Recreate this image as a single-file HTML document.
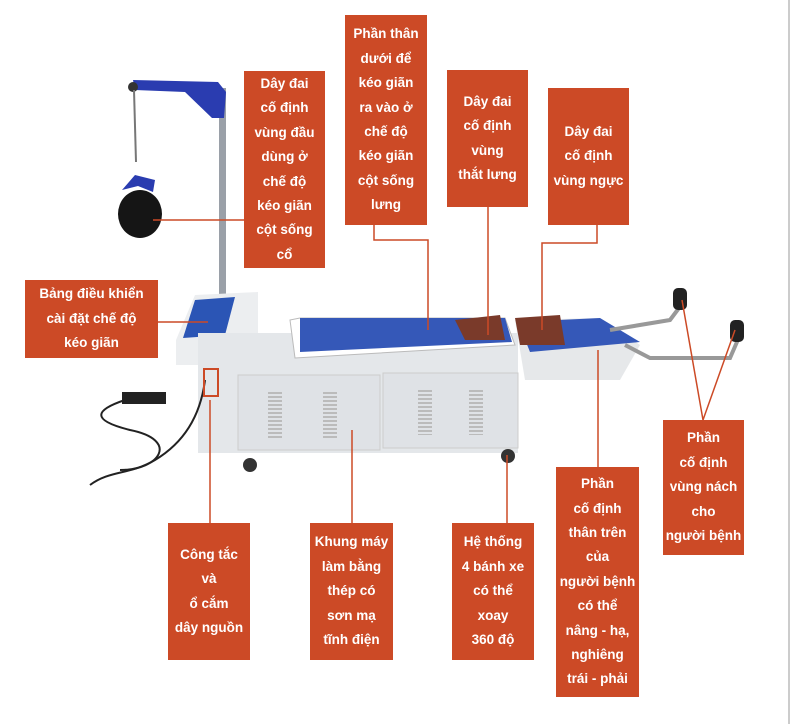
<!DOCTYPE html>
<html><head><meta charset="utf-8"><style>
body{margin:0;width:792px;height:724px;background:#fff;position:relative;overflow:hidden;font-family:"Liberation Sans","DejaVu Sans",sans-serif}
.b{position:absolute;background:#cc4a26;color:#fff;font-weight:bold;font-size:13.5px;line-height:24.4px;text-align:center;display:flex;align-items:center;justify-content:center}
svg{position:absolute;left:0;top:0}
</style></head><body>
<svg width="792" height="724">
<line x1="789" y1="0" x2="789" y2="724" stroke="#ccc" stroke-width="2"/>
<!-- pole and hanger -->
<rect x="219" y="88" width="7" height="212" fill="#9aa0a8"/>
<polygon points="133,80 218,82 226,92 224,118 212,118 185,92 135,90" fill="#2a3cb0"/>
<circle cx="133" cy="87" r="5" fill="#333"/>
<line x1="134" y1="90" x2="136" y2="162" stroke="#777" stroke-width="2"/>
<polygon points="122,190 135,175 155,180 153,192 138,186" fill="#2a3cb0"/>
<ellipse cx="140" cy="214" rx="22" ry="24" fill="#151515"/>
<!-- control box -->
<polygon points="176,340 195,295 258,292 258,365 176,365" fill="#eceef0"/>
<polygon points="195,300 235,297 225,335 183,338" fill="#2b55b5"/>
<!-- main cabinet -->
<rect x="198" y="333" width="320" height="120" fill="#e4e7ea"/>
<rect x="238" y="375" width="142" height="75" fill="#dfe2e6" stroke="#ccc"/>
<rect x="383" y="373" width="135" height="75" fill="#dfe2e6" stroke="#ccc"/>
<g stroke="#bbb" stroke-width="2">
<line x1="275" y1="392" x2="275" y2="440" stroke-dasharray="2 2" stroke-width="14"/>
<line x1="330" y1="392" x2="330" y2="440" stroke-dasharray="2 2" stroke-width="14"/>
<line x1="425" y1="390" x2="425" y2="435" stroke-dasharray="2 2" stroke-width="14"/>
<line x1="476" y1="390" x2="476" y2="435" stroke-dasharray="2 2" stroke-width="14"/>
</g>
<circle cx="250" cy="465" r="7" fill="#333"/><circle cx="508" cy="456" r="7" fill="#333"/>
<!-- bed -->
<polygon points="290,320 300,318 505,318 515,345 295,358" fill="#fff" stroke="#bbb"/>
<polygon points="300,318 505,318 512,342 300,352" fill="#3558b8"/>
<polygon points="455,320 500,315 505,340 465,340" fill="#7a3a2a"/>
<polygon points="515,320 600,318 640,345 620,380 525,380" fill="#e6e8ea"/>
<polygon points="518,322 600,318 640,342 530,352" fill="#3558b8"/>
<polygon points="515,318 560,315 565,345 520,345" fill="#7a3a2a"/>
<path d="M610,330 L670,320 L685,300" stroke="#999" stroke-width="4" fill="none"/>
<path d="M625,345 L650,358 L730,358 L740,335" stroke="#999" stroke-width="4" fill="none"/>
<rect x="673" y="288" width="14" height="22" rx="5" fill="#222"/>
<rect x="730" y="320" width="14" height="22" rx="5" fill="#222"/>
<!-- pedal -->
<rect x="122" y="392" width="44" height="12" fill="#222"/>
<path d="M125,400 C95,410 90,420 130,430 C180,440 160,470 120,470" stroke="#222" stroke-width="2" fill="none"/>
<path d="M205,380 C200,420 180,445 155,460 C130,475 110,470 90,485" stroke="#222" stroke-width="2" fill="none"/>
<rect x="204" y="369" width="14" height="27" fill="none" stroke="#cc4a26" stroke-width="2"/>
<!-- leader lines -->
<g stroke="#cc4a26" stroke-width="1.5" fill="none">
<line x1="153" y1="220" x2="244" y2="220"/>
<line x1="158" y1="322" x2="208" y2="322"/>
<polyline points="374,225 374,240 428,240 428,330"/>
<line x1="488" y1="207" x2="488" y2="335"/>
<polyline points="597,225 597,243 542,243 542,330"/>
<line x1="210" y1="400" x2="210" y2="523"/>
<line x1="352" y1="430" x2="352" y2="523"/>
<line x1="507" y1="455" x2="507" y2="523"/>
<line x1="598" y1="350" x2="598" y2="467"/>
<polyline points="682,300 703,420 735,330"/>
</g>
</svg>
<div class="b" style="left:244px;top:71px;width:81px;height:197px">Dây đai<br>cố định<br>vùng đầu<br>dùng ở<br>chế độ<br>kéo giãn<br>cột sống<br>cổ</div>
<div class="b" style="left:345px;top:15px;width:82px;height:210px">Phần thân<br>dưới để<br>kéo giãn<br>ra vào ở<br>chế độ<br>kéo giãn<br>cột sống<br>lưng</div>
<div class="b" style="left:447px;top:70px;width:81px;height:137px">Dây đai<br>cố định<br>vùng<br>thắt lưng</div>
<div class="b" style="left:548px;top:88px;width:81px;height:137px">Dây đai<br>cố định<br>vùng ngực</div>
<div class="b" style="left:25px;top:280px;width:133px;height:78px">Bảng điều khiển<br>cài đặt chế độ<br>kéo giãn</div>
<div class="b" style="left:168px;top:523px;width:82px;height:137px">Công tắc<br>và<br>ổ cắm<br>dây nguồn</div>
<div class="b" style="left:310px;top:523px;width:83px;height:137px">Khung máy<br>làm bằng<br>thép có<br>sơn mạ<br>tĩnh điện</div>
<div class="b" style="left:452px;top:523px;width:82px;height:137px">Hệ thống<br>4 bánh xe<br>có thể<br>xoay<br>360 độ</div>
<div class="b" style="left:556px;top:467px;width:83px;height:230px">Phần<br>cố định<br>thân trên<br>của<br>người bệnh<br>có thể<br>nâng - hạ,<br>nghiêng<br>trái - phải</div>
<div class="b" style="left:663px;top:420px;width:81px;height:135px">Phần<br>cố định<br>vùng nách<br>cho<br>người bệnh</div>
</body></html>
